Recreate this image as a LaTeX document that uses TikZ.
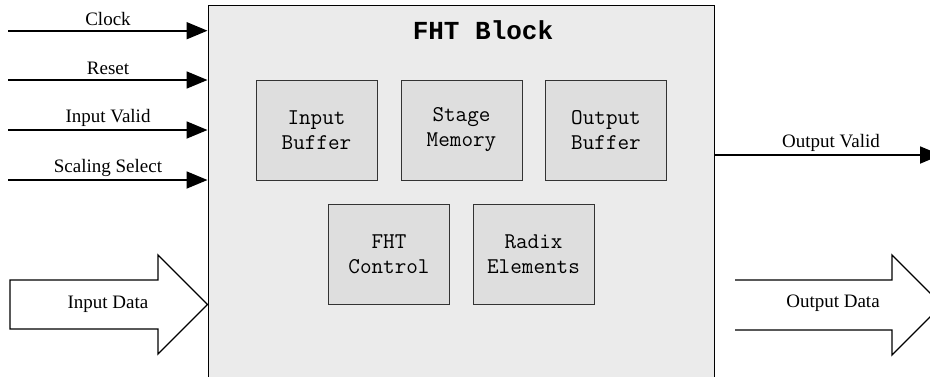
\documentclass[tikz,border=0pt]{standalone}
\usepackage{fontspec}
\setmainfont{Liberation Serif}
\newfontfamily\monofnt{Liberation Mono}
\usetikzlibrary{arrows.meta}
\definecolor{blkfill}{HTML}{EBEBEB}
\definecolor{subfill}{HTML}{DEDEDE}
\definecolor{subdraw}{HTML}{333333}
\tikzset{
  sub/.style={draw=subdraw, line width=0.9pt, fill=subfill, minimum width=121pt, minimum height=100pt,
    inner sep=0pt, align=center, font=\ttfamily\fontsize{22.5}{25}\selectfont},
  sig/.style={line width=1.8pt, -{Triangle[length=21pt,width=17pt]}},
  lbl/.style={font=\fontsize{19}{22}\selectfont, inner sep=0pt},
  fat/.style={draw, line width=1.3pt, fill=white, line join=miter}
}
\begin{document}
\begin{tikzpicture}[x=1pt,y=-1pt]
\useasboundingbox (0,0) rectangle (930,376);
\clip (0,0) rectangle (930,376);
% main block
\node[draw, line width=1pt, fill=blkfill, minimum width=506pt, minimum height=380pt, inner sep=0pt] (blk) at (461,195) {};
\node[font=\monofnt\bfseries\fontsize{26}{28}\selectfont] (title) at (483,30) {FHT Block};
% sub blocks
\node[sub] (ib) at (316.5,130) {Input\\Buffer};
\node[sub] (sm) at (461.5,130) {Stage\\Memory};
\node[sub] (ob) at (606,130) {Output\\Buffer};
\node[sub] (fc) at (389,254.5) {FHT\\Control};
\node[sub] (re) at (533.5,254.5) {Radix\\Elements};
% input signals
\coordinate (clk) at (8,30.7);
\coordinate (rst) at (8,80);
\coordinate (ivl) at (8,130);
\coordinate (scs) at (8,180);
\draw[sig] (clk) -- (clk -| blk.west);
\draw[sig] (rst) -- (rst -| blk.west);
\draw[sig] (ivl) -- (ivl -| blk.west);
\draw[sig] (scs) -- (scs -| blk.west);
\node[lbl] at (108,19) {Clock};
\node[lbl] at (108,68) {Reset};
\node[lbl] at (108,118) {Input Valid};
\node[lbl] at (108,168) {Scaling Select};
% output valid
\coordinate (ovl) at (941,155);
\draw[sig] (ovl -| blk.east) -- (ovl);
\node[lbl] at (831,143) {Output Valid};
% input data fat arrow
\coordinate (idtip) at (blk.west |- 0,304.5);
\draw[fat] (10,280) -- (158,280) -- (158,255) -- (idtip) -- (158,354) -- (158,329) -- (10,329) -- cycle;
\node[lbl] (idl) at (108,304) {Input Data};
% output data fat arrow
\coordinate (odtip) at (942,305);
\draw[fat] (735,280) -- (892,280) -- (892,255) -- (odtip) -- (892,355) -- (892,330) -- (735,330);
\node[lbl] (odl) at (833,303) {Output Data};
\end{tikzpicture}
\end{document}
